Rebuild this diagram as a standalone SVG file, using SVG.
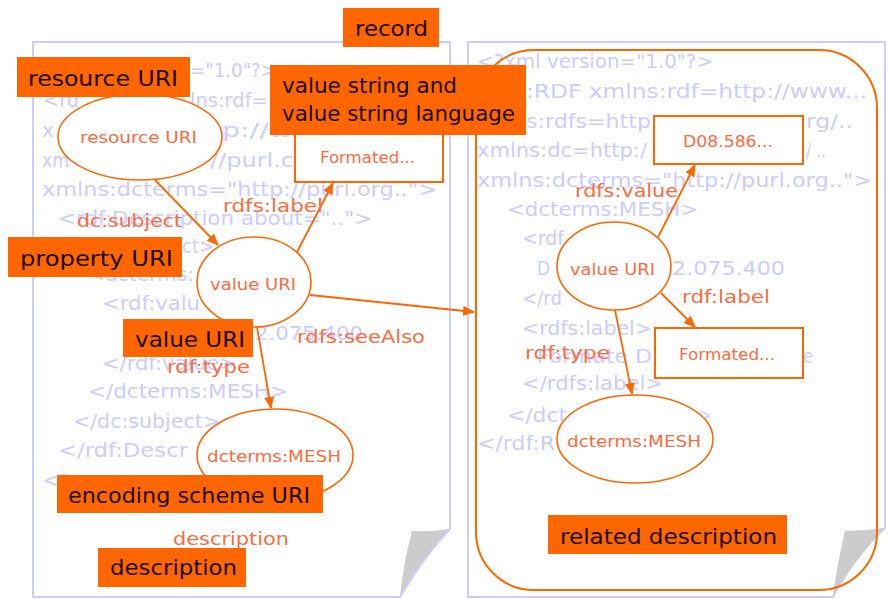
<svg xmlns="http://www.w3.org/2000/svg" width="890" height="599" viewBox="0 0 890 599">
<style>
.page{fill:#fff;stroke:#ccccff;stroke-width:2}
.fold{fill:#cccccc}
.bg text{font-family:"DejaVu Sans",sans-serif;font-size:20px;fill:#ccccff}
.ell{fill:#fff;stroke:#ff6600;stroke-width:1.6}
.box{fill:#fff;stroke:#ff6600;stroke-width:2}
.ntx{font-family:"DejaVu Sans",sans-serif;font-size:16px;fill:#ff6a3c}
.lb{fill:#ff6600}
.ltx{font-family:"DejaVu Sans",sans-serif;font-size:22px;fill:#1a0a00}
.etx{font-family:"DejaVu Sans",sans-serif;font-size:18px;fill:#ff6a3c}
.con line{stroke:#ff6600;stroke-width:1.8;marker-end:url(#arr)}
</style>
<defs>
<marker id="arr" viewBox="0 0 12 10" refX="11" refY="5" markerWidth="12" markerHeight="10" markerUnits="userSpaceOnUse" orient="auto"><path d="M0,0 L12,5 L0,10 z" fill="#ff6600"/></marker>
</defs>
<rect width="890" height="599" fill="#fff"/>
<g id="page-left">
<path class="page" d="M33,42 H450 V529 Q425,555 400,597 H33 Z"/>
<path class="fold" d="M412,531 Q430,532 449,529 Q420,560 400,596 Q404,560 412,531 Z"/>
<g class="bg">
<text x="190" y="77" textLength="86" lengthAdjust="spacingAndGlyphs">="1.0"?&gt;</text>
<text x="43" y="107" textLength="36" lengthAdjust="spacingAndGlyphs">&lt;rd</text>
<text x="190" y="107" textLength="78" lengthAdjust="spacingAndGlyphs">lns:rdf=</text>
<text x="42" y="137" textLength="12" lengthAdjust="spacingAndGlyphs">x</text>
<text x="222" y="137" textLength="70" lengthAdjust="spacingAndGlyphs">p://w</text>
<text x="42" y="167" textLength="27" lengthAdjust="spacingAndGlyphs">xm</text>
<text x="210" y="167" textLength="84" lengthAdjust="spacingAndGlyphs">//purl.c</text>
<text x="42" y="196" textLength="395" lengthAdjust="spacingAndGlyphs">xmlns:dcterms="http://purl.org.."&gt;</text>
<text x="58" y="225" textLength="314" lengthAdjust="spacingAndGlyphs">&lt;rdf:Description about=".."&gt;</text>
<text x="182" y="253" textLength="32" lengthAdjust="spacingAndGlyphs">ct&gt;</text>
<text x="88" y="281" textLength="106" lengthAdjust="spacingAndGlyphs">&lt;dcterms:</text>
<text x="102" y="310" textLength="98" lengthAdjust="spacingAndGlyphs">&lt;rdf:valu</text>
<text x="255" y="340" textLength="108" lengthAdjust="spacingAndGlyphs">2.075.400</text>
<text x="102" y="370" textLength="135" lengthAdjust="spacingAndGlyphs">&lt;/rdf:value&gt;</text>
<text x="88" y="398" textLength="200" lengthAdjust="spacingAndGlyphs">&lt;/dcterms:MESH&gt;</text>
<text x="73" y="428" textLength="147" lengthAdjust="spacingAndGlyphs">&lt;/dc:subject&gt;</text>
<text x="58" y="457" textLength="130" lengthAdjust="spacingAndGlyphs">&lt;/rdf:Descr</text>
<text x="43" y="487" textLength="22" lengthAdjust="spacingAndGlyphs">&lt;/</text>
</g>
</g>
<g id="page-right">
<path class="page" d="M468,42 H885 V528 Q855,555 833,597 H468 Z"/>
<path class="fold" d="M845,531 Q865,531 884,528 Q855,560 833,595 Q838,560 845,531 Z"/>
<g class="bg">
<text x="477" y="68" textLength="236" lengthAdjust="spacingAndGlyphs">&lt;?xml version="1.0"?&gt;</text>
<text x="526" y="98" textLength="341" lengthAdjust="spacingAndGlyphs">:RDF xmlns:rdf=http://www...</text>
<text x="526" y="128" textLength="125" lengthAdjust="spacingAndGlyphs">s:rdfs=http</text>
<text x="806" y="128" textLength="47" lengthAdjust="spacingAndGlyphs">rg/..</text>
<text x="477" y="157" textLength="170" lengthAdjust="spacingAndGlyphs">xmlns:dc=http:/</text>
<text x="806" y="157" textLength="20" lengthAdjust="spacingAndGlyphs">/ ..</text>
<text x="477" y="187" textLength="395" lengthAdjust="spacingAndGlyphs">xmlns:dcterms="http://purl.org.."&gt;</text>
<text x="507" y="216" textLength="191" lengthAdjust="spacingAndGlyphs">&lt;dcterms:MESH&gt;</text>
<text x="522" y="245" textLength="42" lengthAdjust="spacingAndGlyphs">&lt;rdf</text>
<text x="537" y="275" textLength="13" lengthAdjust="spacingAndGlyphs">D</text>
<text x="672" y="275" textLength="113" lengthAdjust="spacingAndGlyphs">2.075.400</text>
<text x="522" y="305" textLength="40" lengthAdjust="spacingAndGlyphs">&lt;/rd</text>
<text x="522" y="335" textLength="130" lengthAdjust="spacingAndGlyphs">&lt;rdfs:label&gt;</text>
<text x="537" y="363" textLength="115" lengthAdjust="spacingAndGlyphs">Formate D</text>
<text x="803" y="363" textLength="10" lengthAdjust="spacingAndGlyphs">e</text>
<text x="522" y="390" textLength="141" lengthAdjust="spacingAndGlyphs">&lt;/rdfs:label&gt;</text>
<text x="507" y="422" textLength="60" lengthAdjust="spacingAndGlyphs">&lt;/dct</text>
<text x="700" y="422" textLength="11" lengthAdjust="spacingAndGlyphs">&gt;</text>
<text x="477" y="450" textLength="78" lengthAdjust="spacingAndGlyphs">&lt;/rdf:R</text>
</g>
<rect x="476" y="50" width="401" height="540" rx="58" ry="58" fill="none" stroke="#ff6600" stroke-width="2"/>
</g>
<g id="n-resource"><ellipse class="ell" cx="140" cy="137" rx="82" ry="43"/><text class="ntx" x="80" y="143" textLength="117" lengthAdjust="spacingAndGlyphs">resource URI</text></g>
<g id="n-value-left"><ellipse class="ell" cx="254" cy="282" rx="57" ry="45"/><text class="ntx" x="210" y="290" textLength="86" lengthAdjust="spacingAndGlyphs">value URI</text></g>
<g id="n-formated-left"><rect class="box" x="295" y="112" width="148" height="70"/><text class="ntx" x="320" y="163" textLength="95" lengthAdjust="spacingAndGlyphs">Formated...</text></g>
<g id="n-mesh-left"><ellipse class="ell" cx="275" cy="455" rx="78" ry="46"/><text class="ntx" x="207" y="462" textLength="134" lengthAdjust="spacingAndGlyphs">dcterms:MESH</text></g>
<g id="n-d08"><rect class="box" x="654" y="116" width="149" height="48"/><text class="ntx" x="683" y="147" textLength="90" lengthAdjust="spacingAndGlyphs">D08.586...</text></g>
<g id="n-value-right"><ellipse class="ell" cx="614" cy="266" rx="57" ry="44"/><text class="ntx" x="570" y="275" textLength="85" lengthAdjust="spacingAndGlyphs">value URI</text></g>
<g id="n-formated-right"><rect class="box" x="655" y="328" width="148" height="50"/><text class="ntx" x="679" y="360" textLength="96" lengthAdjust="spacingAndGlyphs">Formated...</text></g>
<g id="n-mesh-right"><ellipse class="ell" cx="635" cy="439" rx="78" ry="44"/><text class="ntx" x="567" y="447" textLength="134" lengthAdjust="spacingAndGlyphs">dcterms:MESH</text></g>
<g id="connectors" class="con">
<line x1="155" y1="180" x2="218" y2="245"/>
<line x1="297" y1="252" x2="333" y2="183"/>
<line x1="310" y1="295" x2="474" y2="312"/>
<line x1="257" y1="327" x2="271" y2="408"/>
<line x1="658" y1="237" x2="695" y2="165"/>
<line x1="661" y1="293" x2="695" y2="327"/>
<line x1="615" y1="310" x2="632" y2="394"/>
<text class="etx" x="77" y="227" textLength="105" lengthAdjust="spacingAndGlyphs">dc:subject</text>
<text class="etx" x="223" y="212" textLength="100" lengthAdjust="spacingAndGlyphs">rdfs:label</text>
<text class="etx" x="297" y="343" textLength="128" lengthAdjust="spacingAndGlyphs">rdfs:seeAlso</text>
<text class="etx" x="167" y="373" textLength="83" lengthAdjust="spacingAndGlyphs">rdf:type</text>
<text class="etx" x="173" y="545" textLength="116" lengthAdjust="spacingAndGlyphs">description</text>
<text class="etx" x="575" y="197" textLength="103" lengthAdjust="spacingAndGlyphs">rdfs:value</text>
<text class="etx" x="682" y="303" textLength="88" lengthAdjust="spacingAndGlyphs">rdf:label</text>
<text class="etx" x="525" y="359" textLength="85" lengthAdjust="spacingAndGlyphs">rdf:type</text>
</g>
<g id="l-record"><rect class="lb" x="343" y="8" width="96" height="39"/><text class="ltx" x="355" y="36" textLength="73" lengthAdjust="spacingAndGlyphs">record</text></g>
<g id="l-resource"><rect class="lb" x="17" y="57" width="173" height="40"/><text class="ltx" x="28" y="86" textLength="150" lengthAdjust="spacingAndGlyphs">resource URI</text></g>
<g id="l-valuestring"><rect class="lb" x="270" y="65" width="256" height="70"/><text class="ltx" x="282" y="93" textLength="175" lengthAdjust="spacingAndGlyphs">value string and</text><text class="ltx" x="282" y="121" textLength="233" lengthAdjust="spacingAndGlyphs">value string language</text></g>
<g id="l-property"><rect class="lb" x="8" y="237" width="174" height="40"/><text class="ltx" x="20" y="266" textLength="153" lengthAdjust="spacingAndGlyphs">property URI</text></g>
<g id="l-value"><rect class="lb" x="123" y="319" width="130" height="38"/><text class="ltx" x="135" y="347" textLength="110" lengthAdjust="spacingAndGlyphs">value URI</text></g>
<g id="l-encoding"><rect class="lb" x="57" y="475" width="266" height="38"/><text class="ltx" x="68" y="503" textLength="242" lengthAdjust="spacingAndGlyphs">encoding scheme URI</text></g>
<g id="l-description"><rect class="lb" x="98" y="548" width="148" height="39"/><text class="ltx" x="110" y="575" textLength="127" lengthAdjust="spacingAndGlyphs">description</text></g>
<g id="l-related"><rect class="lb" x="548" y="515" width="239" height="39"/><text class="ltx" x="560" y="544" textLength="217" lengthAdjust="spacingAndGlyphs">related description</text></g>
</svg>
